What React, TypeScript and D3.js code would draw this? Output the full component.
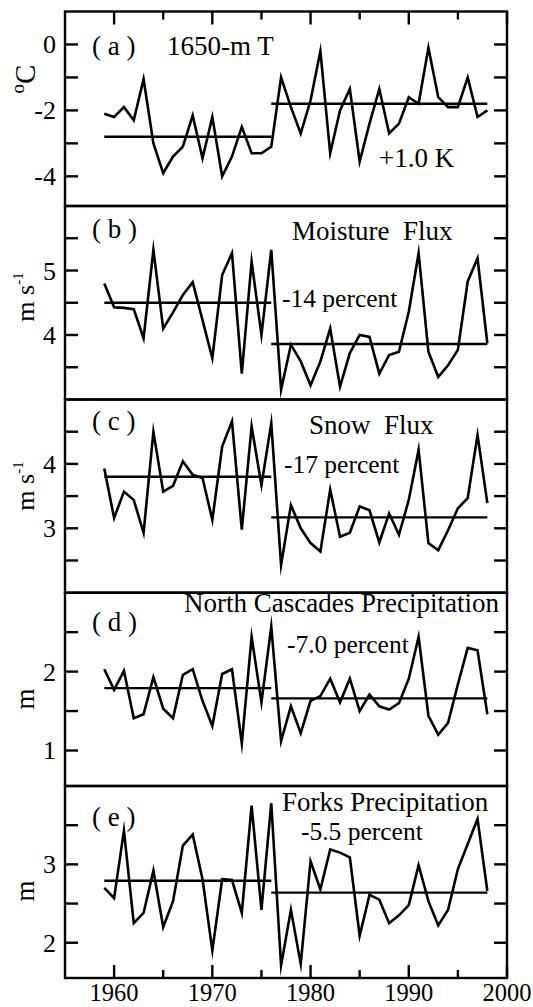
import * as d3 from 'd3'

const YEARS = [
  1959, 1960, 1961, 1962, 1963, 1964, 1965, 1966, 1967, 1968,
  1969, 1970, 1971, 1972, 1973, 1974, 1975, 1976, 1977, 1978,
  1979, 1980, 1981, 1982, 1983, 1984, 1985, 1986, 1987, 1988,
  1989, 1990, 1991, 1992, 1993, 1994, 1995, 1996, 1997, 1998,
]

const TEMP_1650 = [
  -2.1, -2.2, -1.9, -2.3, -1.05, -3.0, -3.9, -3.4, -3.1, -2.15,
  -3.45, -2.2, -4.0, -3.4, -2.5, -3.3, -3.3, -3.1, -1.0, -1.9,
  -2.7, -1.7, -0.2, -3.3, -2.0, -1.35, -3.55, -2.4, -1.35, -2.7,
  -2.4, -1.6, -1.8, -0.1, -1.6, -1.9, -1.9, -1.0, -2.2, -2.0,
]
const MOISTURE_FLUX = [
  4.8, 4.43, 4.42, 4.4, 3.95, 5.32, 4.1, 4.35, 4.62, 4.82,
  4.23, 3.64, 4.93, 5.27, 3.4, 5.14, 4.0, 5.32, 3.15, 3.85,
  3.59, 3.22, 3.59, 4.1, 3.2, 3.72, 4.0, 3.97, 3.4, 3.69,
  3.74, 4.36, 5.27, 3.74, 3.35, 3.53, 3.77, 4.83, 5.19, 3.87,
]
const SNOW_FLUX = [
  3.93, 3.16, 3.57, 3.44, 2.93, 4.5, 3.57, 3.66, 4.04, 3.83,
  3.78, 3.13, 4.27, 4.66, 2.98, 4.58, 3.67, 4.63, 2.43, 3.36,
  3.0, 2.77, 2.64, 3.6, 2.87, 2.93, 3.34, 3.28, 2.78, 3.23,
  2.9, 3.44, 4.22, 2.77, 2.66, 2.97, 3.31, 3.47, 4.45, 3.39,
]
const NCASC_PRECIP = [
  2.03, 1.77, 2.01, 1.41, 1.46, 1.93, 1.53, 1.41, 1.96, 2.03,
  1.63, 1.31, 1.97, 2.03, 1.09, 2.44, 1.61, 2.57, 1.12, 1.56,
  1.22, 1.63, 1.69, 1.91, 1.61, 1.91, 1.5, 1.71, 1.56, 1.52,
  1.6, 1.91, 2.44, 1.44, 1.2, 1.35, 1.84, 2.3, 2.27, 1.46,
]
const FORKS_PRECIP = [
  2.7, 2.57, 3.43, 2.25, 2.38, 2.92, 2.2, 2.53, 3.24, 3.38,
  2.81, 1.9, 2.81, 2.8, 2.38, 3.75, 2.42, 3.78, 1.71, 2.42,
  1.73, 3.04, 2.68, 3.19, 3.15, 3.09, 2.09, 2.61, 2.55, 2.25,
  2.35, 2.48, 2.99, 2.53, 2.22, 2.42, 2.94, 3.26, 3.58, 2.66,
]

const SERIES = [TEMP_1650, MOISTURE_FLUX, SNOW_FLUX, NCASC_PRECIP, FORKS_PRECIP]
const MEANS_EARLY = [-2.8, 4.5, 3.8, 1.79, 2.79]
const MEANS_LATE = [-1.8, 3.86, 3.17, 1.66, 2.64]
const BREAK_YEAR = 1976

const PANEL_TAGS = ['( a )', '( b )', '( c )', '( d )', '( e )']
const PANEL_TITLES = ['1650-m T', 'Moisture  Flux', 'Snow  Flux', 'North Cascades Precipitation', 'Forks Precipitation']
const CHANGE_LABELS = ['+1.0 K', '-14 percent', '-17 percent', '-7.0 percent', '-5.5 percent']

const Y_DOMAINS = [[-4.9, 1], [3, 6], [2, 5], [0.55, 3], [1.55, 4]]
const Y_TICKS = [
  [-4, -3, -2, -1, 0],
  [3.5, 4, 4.5, 5, 5.5],
  [2.5, 3, 3.5, 4, 4.5],
  [1, 1.5, 2, 2.5],
  [2, 2.5, 3, 3.5],
]
const Y_TICK_LABELS = [[-4, -2, 0], [4, 5], [3, 4], [1, 2], [2, 3]]
const X_MAJOR = [1960, 1970, 1980, 1990, 2000]
const X_MINOR = [1965, 1975, 1985, 1995]

// layout (px)
const W = 533
const H = 1007
const LEFT = 65
const RIGHT = 507
const BOUNDS = [11.5, 206, 399.5, 592.7, 786, 978]
const FONT = "'Liberation Serif', 'Times New Roman', Times, 'DejaVu Serif', serif"

const TEXT_POS = [
  { tag: [92, 55], title: [167, 55], change: [379, 167], unit: [35, 79] },
  { tag: [92, 238], title: [292, 240], change: [282, 307], unit: [34, 297] },
  { tag: [92, 430], title: [309, 434], change: [284, 473], unit: [34, 486] },
  { tag: [92, 631], title: [184, 612], change: [287, 653], unit: [34, 699] },
  { tag: [92, 826], title: [282, 811], change: [301, 840], unit: [34, 891] },
]

const x = d3.scaleLinear().domain([1955, 2000]).range([LEFT, RIGHT])

function UnitLabel({ i }: { i: number }) {
  const [ux, uy] = TEXT_POS[i].unit
  const t = `translate(${ux},${uy}) rotate(-90)`
  if (i === 0) {
    return (
      <text transform={t} textAnchor="middle" fontSize={29}>
        <tspan fontSize={19} dy={-11}>o</tspan>
        <tspan dy={11}>C</tspan>
      </text>
    )
  }
  if (i <= 2) {
    return (
      <text transform={t} textAnchor="middle" fontSize={26}>
        m s<tspan fontSize={15} dy={-11}>-1</tspan>
      </text>
    )
  }
  return (
    <text transform={t} textAnchor="middle" fontSize={27}>m</text>
  )
}

function Panel({ i }: { i: number }) {
  const top = BOUNDS[i]
  const bottom = BOUNDS[i + 1]
  const y = d3.scaleLinear().domain(Y_DOMAINS[i]).range([bottom, top])
  const data = SERIES[i]
  const line = d3
    .line<number>()
    .x((_, k) => x(YEARS[k]))
    .y((d) => y(d))
  const first = YEARS[0]
  const last = YEARS[YEARS.length - 1]
  const pos = TEXT_POS[i]
  return (
    <g>
      {Y_TICKS[i].map((v) => (
        <g key={v}>
          <line x1={LEFT} x2={LEFT + 13} y1={y(v)} y2={y(v)} stroke="#000" strokeWidth={2.4} />
          <line x1={RIGHT - 13} x2={RIGHT} y1={y(v)} y2={y(v)} stroke="#000" strokeWidth={2.4} />
        </g>
      ))}
      {Y_TICK_LABELS[i].map((v) => (
        <text key={v} x={56} y={y(v) + 9} textAnchor="end" fontSize={26}>
          {String(v)}
        </text>
      ))}
      <path d={line(data) || ''} fill="none" stroke="#000" strokeWidth={2.6} strokeLinejoin="miter" strokeMiterlimit={10} />
      <line x1={x(first)} x2={x(BREAK_YEAR)} y1={y(MEANS_EARLY[i])} y2={y(MEANS_EARLY[i])} stroke="#000" strokeWidth={2.4} />
      <line x1={x(BREAK_YEAR)} x2={x(last)} y1={y(MEANS_LATE[i])} y2={y(MEANS_LATE[i])} stroke="#000" strokeWidth={2.4} />
      <text x={pos.tag[0]} y={pos.tag[1]} fontSize={27} xmlSpace="preserve">{PANEL_TAGS[i]}</text>
      <text x={pos.title[0]} y={pos.title[1]} fontSize={27} xmlSpace="preserve">{PANEL_TITLES[i]}</text>
      <text x={pos.change[0]} y={pos.change[1]} fontSize={i === 0 ? 27 : 25.5} xmlSpace="preserve">{CHANGE_LABELS[i]}</text>
      <UnitLabel i={i} />
      <rect x={LEFT} y={top} width={RIGHT - LEFT} height={bottom - top} fill="none" stroke="#000" strokeWidth={2.4} />
    </g>
  )
}

export default function App() {
  const top = BOUNDS[0]
  const bottom = BOUNDS[BOUNDS.length - 1]
  return (
    <svg
      width={W}
      height={H}
      viewBox={`0 0 ${W} ${H}`}
      style={{ position: 'absolute', left: 0, top: 0, background: '#fff', fontFamily: FONT }}
      fill="#000"
    >
      <rect x={0} y={0} width={W} height={H} fill="#fff" />
      {SERIES.map((_, i) => (
        <Panel key={i} i={i} />
      ))}
      {X_MAJOR.map((yr) => (
        <g key={yr}>
          <line x1={x(yr)} x2={x(yr)} y1={top} y2={top + 13} stroke="#000" strokeWidth={2.4} />
          <line x1={x(yr)} x2={x(yr)} y1={bottom} y2={bottom - 13} stroke="#000" strokeWidth={2.4} />
          <text x={x(yr)} y={1001} textAnchor="middle" fontSize={24.5}>{String(yr)}</text>
        </g>
      ))}
      {X_MINOR.map((yr) => (
        <g key={yr}>
          <line x1={x(yr)} x2={x(yr)} y1={top} y2={top + 8} stroke="#000" strokeWidth={2.4} />
          <line x1={x(yr)} x2={x(yr)} y1={bottom} y2={bottom - 8} stroke="#000" strokeWidth={2.4} />
        </g>
      ))}
    </svg>
  )
}
